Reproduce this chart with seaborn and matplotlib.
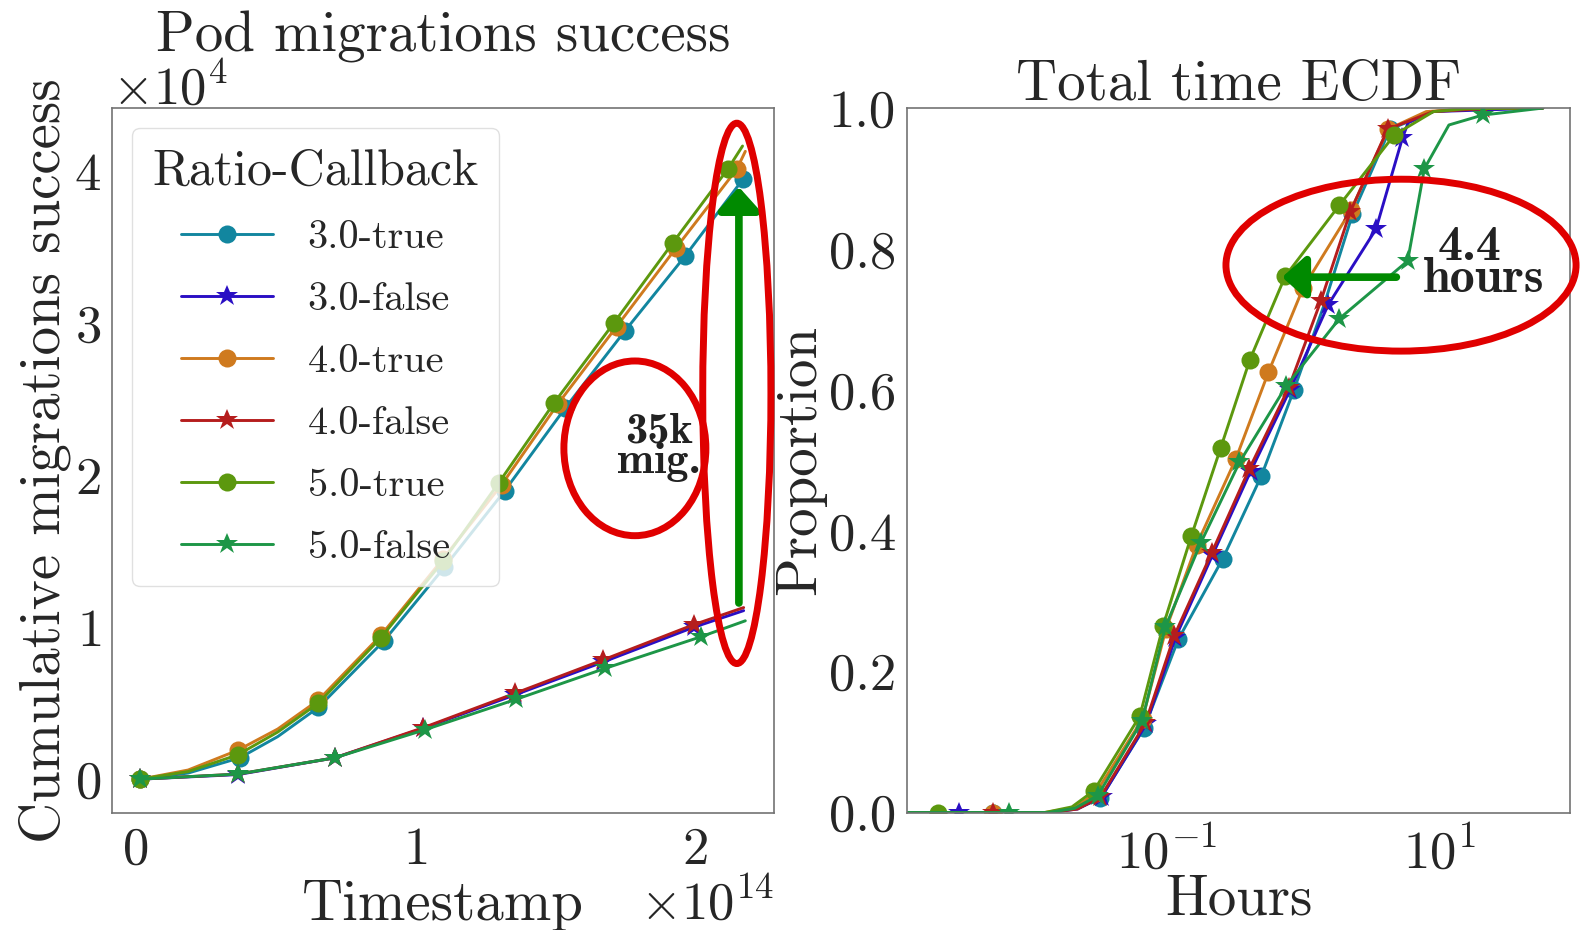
import numpy as np
import matplotlib
matplotlib.use("Agg")
import matplotlib.pyplot as plt
from matplotlib.patches import Ellipse
from matplotlib.lines import Line2D
from matplotlib.ticker import FixedLocator, NullLocator, LogFormatterMathtext, FormatStrFormatter
import seaborn as sns

# ---------------- data ----------------
series_names = ["3.0-true", "3.0-false", "4.0-true", "4.0-false", "5.0-true", "5.0-false"]
series_colors = ["#12869f", "#2a0fc4", "#cf7a1e", "#b51d1d", "#5c980e", "#1d9647"]
series_markers = ["o", "*", "o", "*", "o", "*"]

# Left panel: timestamp (x 1e14) vs cumulative successful migrations (x 1e4)
ts_3_true = [0.02, 0.19, 0.374, 0.51, 0.655, 0.889, 1.105, 1.321, 1.537, 1.749, 1.964, 2.171, 2.185]
cum_3_true = [0.0, 0.04, 0.14, 0.28, 0.472, 0.91, 1.395, 1.90, 2.445, 2.95, 3.443, 3.95, 3.98]
ts_4_true = [0.02, 0.19, 0.367, 0.51, 0.655, 0.88, 1.10, 1.31, 1.51, 1.72, 1.933, 2.149, 2.18]
cum_4_true = [0.0, 0.06, 0.19, 0.33, 0.52, 0.95, 1.45, 1.94, 2.47, 2.98, 3.50, 4.016, 4.135]
ts_5_true = [0.02, 0.19, 0.367, 0.51, 0.655, 0.878, 1.10, 1.30, 1.497, 1.71, 1.92, 2.118, 2.17]
cum_5_true = [0.0, 0.05, 0.16, 0.31, 0.50, 0.93, 1.435, 1.953, 2.478, 3.003, 3.53, 4.02, 4.17]
mk_left_true = [0, 2, 4, 5, 6, 7, 8, 9, 10, 11]
ts_3_false = [0.02, 0.367, 0.713, 1.03, 1.357, 1.67, 1.995, 2.174]
cum_3_false = [0.0, 0.03, 0.14, 0.335, 0.555, 0.77, 1.0, 1.11]
ts_4_false = [0.02, 0.367, 0.713, 1.03, 1.357, 1.67, 1.995, 2.174]
cum_4_false = [0.0, 0.033, 0.14, 0.339, 0.565, 0.784, 1.017, 1.13]
ts_5_false = [0.02, 0.367, 0.713, 1.037, 1.36, 1.68, 2.02, 2.18]
cum_5_false = [0.0, 0.033, 0.14, 0.326, 0.525, 0.73, 0.937, 1.043]
mk_left_false = [0, 1, 2, 3, 4, 5, 6]

# Right panel: ECDF of total time (hours) -> proportion
hrs_3_true = [0.0012, 0.0053, 0.0135, 0.022, 0.0324, 0.068, 0.121, 0.256, 0.493, 0.855, 1.42, 2.30, 4.335, 9.0, 16.0, 57.5]
prop_3_true = [0.0, 0.0, 0.0, 0.006, 0.02, 0.12, 0.246, 0.36, 0.478, 0.60, 0.72, 0.849, 0.97, 0.995, 0.999, 1.0]
mk_3_true = [1, 4, 5, 6, 7, 8, 9, 11, 12]

hrs_3_false = [0.0012, 0.00295, 0.0135, 0.022, 0.033, 0.070, 0.115, 0.215, 0.41, 0.80, 1.528, 3.42, 5.346, 5.89, 9.0, 57.5]
prop_3_false = [0.0, 0.0, 0.0, 0.005, 0.022, 0.125, 0.248, 0.365, 0.484, 0.60, 0.721, 0.828, 0.957, 0.979, 0.995, 1.0]
mk_3_false = [1, 4, 5, 6, 7, 8, 9, 10, 11, 12]

hrs_4_true = [0.0012, 0.0053, 0.0126, 0.021, 0.030, 0.066, 0.098, 0.165, 0.32, 0.555, 1.0, 2.24, 4.2, 8.0, 16.0, 57.5]
prop_4_true = [0.0, 0.0, 0.0, 0.007, 0.028, 0.133, 0.26, 0.38, 0.502, 0.625, 0.745, 0.855, 0.97, 0.995, 0.999, 1.0]
mk_4_true = [1, 4, 5, 6, 7, 8, 9, 10, 11, 12]

hrs_4_false = [0.0012, 0.00525, 0.0135, 0.022, 0.0324, 0.0693, 0.113, 0.212, 0.40, 0.782, 1.346, 2.218, 4.17, 9.0, 20.75, 57.5]
prop_4_false = [0.0, 0.0, 0.0, 0.005, 0.022, 0.127, 0.251, 0.368, 0.487, 0.603, 0.726, 0.853, 0.97, 0.995, 0.999, 1.0]
mk_4_false = [1, 4, 5, 6, 7, 8, 9, 10, 11, 12, 14]

hrs_5_true = [0.0012, 0.00206, 0.0126, 0.020, 0.029, 0.0631, 0.0935, 0.151, 0.247, 0.406, 0.736, 1.841, 4.677, 9.04, 15.85, 57.5]
prop_5_true = [0.0, 0.0, 0.0, 0.008, 0.031, 0.137, 0.265, 0.393, 0.517, 0.643, 0.761, 0.862, 0.962, 0.995, 0.999, 1.0]
mk_5_true = [1, 4, 5, 6, 7, 8, 9, 10, 11, 12]

hrs_5_false = [0.0012, 0.00692, 0.0135, 0.021, 0.031, 0.0655, 0.097, 0.176, 0.34, 0.753, 1.841, 5.848, 7.76, 11.75, 20.75, 57.5]
prop_5_false = [0.0, 0.0, 0.0, 0.006, 0.024, 0.13, 0.263, 0.382, 0.497, 0.606, 0.701, 0.783, 0.914, 0.976, 0.99, 1.0]
mk_5_false = [1, 4, 5, 6, 7, 8, 9, 10, 11, 12, 14]

left_data = [(ts_3_true, cum_3_true, mk_left_true), (ts_3_false, cum_3_false, mk_left_false),
             (ts_4_true, cum_4_true, mk_left_true), (ts_4_false, cum_4_false, mk_left_false),
             (ts_5_true, cum_5_true, mk_left_true), (ts_5_false, cum_5_false, mk_left_false)]
right_data = [(hrs_3_true, prop_3_true, mk_3_true), (hrs_3_false, prop_3_false, mk_3_false),
              (hrs_4_true, prop_4_true, mk_4_true), (hrs_4_false, prop_4_false, mk_4_false),
              (hrs_5_true, prop_5_true, mk_5_true), (hrs_5_false, prop_5_false, mk_5_false)]

# ---------------- style ----------------
sns.set_style("white")
plt.rcParams.update({
    "font.family": ["cmr10", "DejaVu Serif"],
    "mathtext.fontset": "cm",
    "axes.formatter.use_mathtext": True,
    "axes.unicode_minus": True,
    "axes.edgecolor": "0.45",
    "axes.linewidth": 1.2,
    "xtick.major.pad": 7,
    "ytick.major.pad": 4.5,
})

LABEL_FS = 41
TICK_FS = 38
MS = {"o": 13, "*": 16.5}
LW = 2.1
BOLD = ["cmb10", "DejaVu Serif"]

fig = plt.figure(figsize=(15.81, 9.3), dpi=100)
ax1 = fig.add_axes([0.0708, 0.1263, 0.4187, 0.7575])
ax2 = fig.add_axes([0.5737, 0.1263, 0.4194, 0.7575])

# ---------------- left panel ----------------
for (ts, cum, mkidx), name, col, mk in zip(left_data, series_names, series_colors, series_markers):
    sns.lineplot(x=np.array(ts) * 1e14, y=np.array(cum) * 1e4, ax=ax1, color=col,
                 marker=mk, markersize=MS[mk], markeredgewidth=0, markevery=mkidx,
                 lw=LW, sort=False, estimator=None, legend=False)

ax1.set_xlim(-0.082e14, 2.282e14)
ax1.set_ylim(-0.22e4, 4.42e4)
ax1.xaxis.set_major_locator(FixedLocator([0, 1e14, 2e14]))
ax1.yaxis.set_major_locator(FixedLocator([0, 1e4, 2e4, 3e4, 4e4]))
ax1.ticklabel_format(axis="both", style="sci", scilimits=(0, 0), useMathText=True)
ax1.tick_params(labelsize=TICK_FS)
ax1.xaxis.get_offset_text().set_fontsize(TICK_FS)
ax1.yaxis.get_offset_text().set_fontsize(TICK_FS)
ax1.set_xlabel("Timestamp", fontsize=LABEL_FS)
ax1.set_ylabel("Cumulative migrations success", fontsize=LABEL_FS, labelpad=2)
ax1.set_title("Pod migrations success", fontsize=LABEL_FS)

handles = [Line2D([], [], color=c, marker=m, markersize=MS[m], markeredgewidth=0, lw=LW)
           for c, m in zip(series_colors, series_markers)]
leg = ax1.legend(handles, series_names, title="Ratio-Callback", loc="upper left",
                 fontsize=29, title_fontsize=36, handlelength=2.3, handletextpad=0.85,
                 labelspacing=0.64, frameon=True, fancybox=True, framealpha=0.8,
                 edgecolor="0.85", borderpad=0.5)
leg.get_frame().set_linewidth(1.0)

# annotations left
ax1.annotate("", xy=(2.157e14, 3.9e4), xytext=(2.157e14, 1.16e4),
             arrowprops=dict(arrowstyle="-|>,head_width=0.45,head_length=0.5", color="#008a00",
                             lw=5.5, mutation_scale=28, shrinkA=0, shrinkB=0), zorder=5)
ax1.add_patch(Ellipse((0.944, 0.595), 0.103, 0.767, transform=ax1.transAxes, fill=False,
                      edgecolor="#e00000", lw=5, clip_on=False, zorder=6))
ax1.add_patch(Ellipse((0.790, 0.517), 0.2145, 0.248, transform=ax1.transAxes, fill=False,
                      edgecolor="#e00000", lw=5, clip_on=False, zorder=6))
ax1.text(0.826, 0.518, "35k\nmig.", transform=ax1.transAxes, family=BOLD,
         ha="center", va="center", fontsize=32, color="#222222", linespacing=0.7,
         multialignment="center", zorder=7)

# ---------------- right panel ----------------
ax2.set_xscale("log")
for (hrs, prop, mkidx), name, col, mk in zip(right_data, series_names, series_colors, series_markers):
    sns.lineplot(x=hrs, y=prop, ax=ax2, color=col, marker=mk, markersize=MS[mk],
                 markeredgewidth=0, markevery=mkidx, lw=LW, sort=False, estimator=None,
                 legend=False)

ax2.set_xlim(10 ** -2.91, 10 ** 1.96)
ax2.set_ylim(0, 1.0)
ax2.xaxis.set_major_locator(FixedLocator([0.1, 10]))
ax2.xaxis.set_major_formatter(LogFormatterMathtext())
ax2.xaxis.set_minor_locator(NullLocator())
ax2.yaxis.set_major_locator(FixedLocator([0, 0.2, 0.4, 0.6, 0.8, 1.0]))
ax2.yaxis.set_major_formatter(FormatStrFormatter("%.1f"))
ax2.tick_params(labelsize=TICK_FS)
ax2.set_xlabel("Hours", fontsize=LABEL_FS, labelpad=-3)
ax2.set_ylabel("Proportion", fontsize=LABEL_FS, labelpad=2)
ax2.set_title("Total time ECDF", fontsize=LABEL_FS)

ax2.annotate("", xy=(0.70, 0.76), xytext=(4.83, 0.76),
             arrowprops=dict(arrowstyle="-|>,head_width=0.45,head_length=0.5", color="#008a00",
                             lw=5.5, mutation_scale=28, shrinkA=0, shrinkB=0), zorder=5)
ax2.add_patch(Ellipse((0.745, 0.777), 0.528, 0.244, transform=ax2.transAxes, fill=False,
                      edgecolor="#e00000", lw=5, clip_on=False, zorder=6))
ax2.text(0.848, 0.784, "4.4", transform=ax2.transAxes, family=BOLD,
         ha="center", va="baseline", fontsize=36, color="#222222", zorder=7)
ax2.text(0.870, 0.739, "hours", transform=ax2.transAxes, family=BOLD,
         ha="center", va="baseline", fontsize=36, color="#222222", zorder=7)

fig.savefig("out.png", dpi=100)
